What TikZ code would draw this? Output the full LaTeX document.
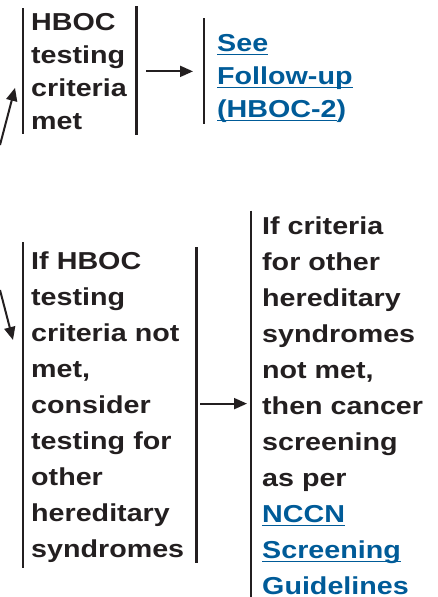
\documentclass[tikz,border=0pt]{standalone}
\usepackage{fontspec}
\setmainfont{Liberation Sans}[FakeStretch=1.17]
\usepackage{tikz}
\usetikzlibrary{arrows.meta}

\definecolor{ink}{HTML}{231F20}
\definecolor{linkblue}{HTML}{005B98}
% underlined link text
\newcommand{\ulink}[1]{\setbox0\hbox{#1}\rlap{\rule[-4pt]{\wd0}{1.8pt}}\box0}

\begin{document}
\begin{tikzpicture}[x=1pt,y=1pt,>={Triangle[length=13pt,width=11pt]},
        every node/.style={anchor=north west,align=left,inner ysep=0pt,text=ink},
        tight/.style={font=\fontsize{24.5}{33}\selectfont\bfseries},
        loose/.style={font=\fontsize{24.5}{36}\selectfont\bfseries},
        bar/.style={draw=ink,line width=2.3pt},
        flow/.style={->,draw=ink,line width=2pt},
        link/.style={text=linkblue}]
      \useasboundingbox (0,0) rectangle (437,-597);

      \node[tight,inner xsep=8pt,text width=97pt]   (met)    at (23,-13)    {HBOC\\testing\\criteria\\met};
      \node[tight,link,inner xsep=13pt]             (follow) at (204,-34)   {\ulink{See}\\\ulink{Follow-up}\\\ulink{(HBOC-2})};
      \node[loose,inner xsep=8pt,text width=157pt]  (notmet) at (23,-252)   {If HBOC\\testing\\criteria not\\met,\\consider\\testing for\\other\\hereditary\\syndromes};
      \node[loose,inner xsep=11pt]                  (screen) at (251,-216.5) {If criteria\\for other\\hereditary\\syndromes\\not met,\\then cancer\\screening\\as per\\\textcolor{linkblue}{\ulink{NCCN}}\\\textcolor{linkblue}{\ulink{Screening}}\\\textcolor{linkblue}{Guidelines}};

      % bars
      \draw[bar] ([yshift=5pt]met.north west) -- ([yshift=-4pt]met.south west);
      \draw[bar] ([yshift=7pt]met.north east) -- ([yshift=-5pt]met.south east);
      \draw[bar] ([yshift=16pt]follow.north west) -- ([yshift=-1pt]follow.south west);
      \draw[bar] ([yshift=10pt]notmet.north west) -- ([yshift=-5pt]notmet.south west);
      \draw[bar] ([yshift=5pt]notmet.north east) -- (notmet.south east);
      \draw[bar] ([yshift=6pt]screen.north west) -- ([yshift=-10pt]screen.south west);

      % incoming from the left
      \coordinate (from1) at (0,-145);
      \coordinate (from2) at (0,-290);

      \draw[flow] (from1) -- ([shift={(-8pt,-16.5pt)}]met.west);
      \draw[flow] (from2) -- ([shift={(-10pt,-88pt)}]notmet.north west);
      \draw[flow,shorten <=10pt,shorten >=11pt] (met.east) -- (follow.west |- met.east);
      \draw[flow,shorten <=4pt,shorten >=4pt] ([yshift=4pt]notmet.east) -- ([yshift=4pt]screen.west |- notmet.east);
    \end{tikzpicture}
\end{document}
